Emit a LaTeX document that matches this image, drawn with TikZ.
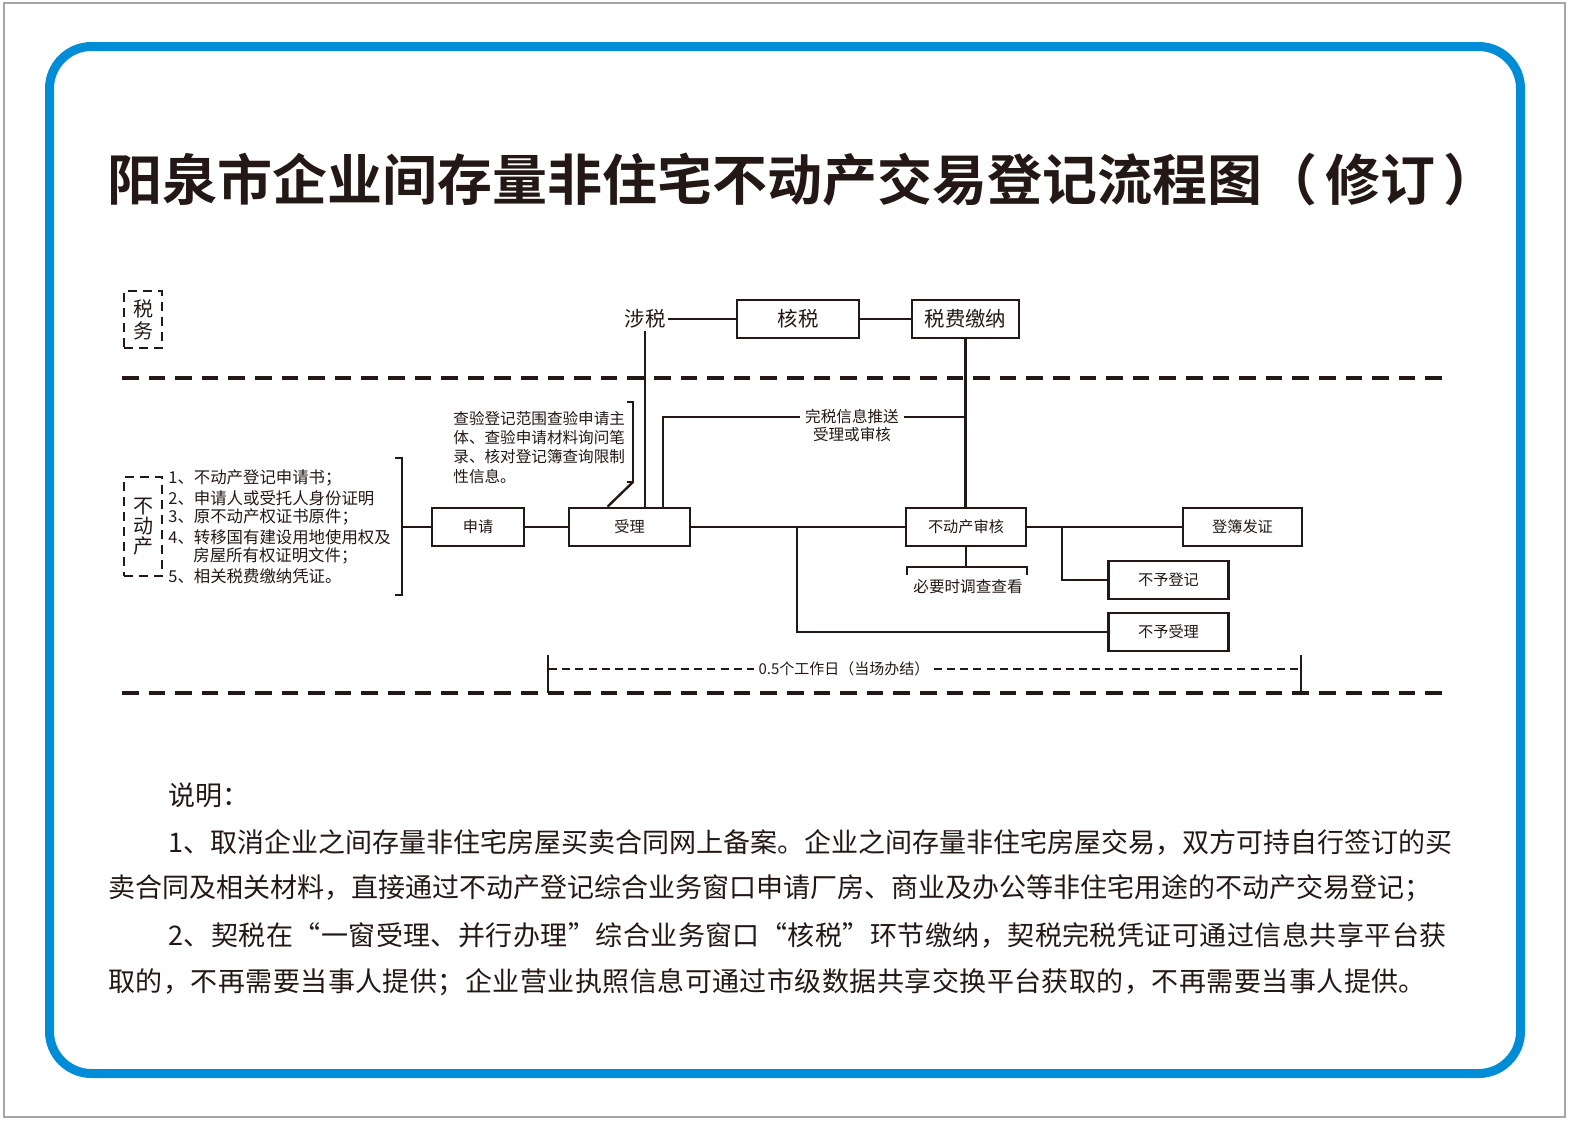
\documentclass[tikz,border=0pt]{standalone}
\usepackage{fontspec}
\setmainfont{Noto Sans CJK SC}
\newfontfamily\titlefont{Noto Sans CJK SC Bold}
\usetikzlibrary{calc}
\definecolor{ink}{RGB}{35,24,21}
\definecolor{frame}{RGB}{0,140,214}

\begin{document}
\begin{tikzpicture}[x=0.5pt,y=-0.5pt,color=ink,
  box/.style={draw=ink,line width=1.4pt,minimum height=19pt,inner sep=0pt,font=\fontsize{7.6}{9}\selectfont},
  taxbox/.style={box,font=\fontsize{10.2}{12}\selectfont},
  note/.style={inner sep=0pt,font=\fontsize{7.8}{9}\selectfont},
  side/.style={draw=ink,line width=1pt,dash pattern=on 4.5pt off 3pt,minimum width=19pt,align=center,inner sep=0pt,font=\fontsize{10}{10}\selectfont},
  link/.style={draw=ink,line width=1.2pt},
  lane/.style={draw=ink,line width=2pt,dash pattern=on 8.3pt off 5pt},
  period/.style={draw=ink,line width=1pt,dash pattern=on 4pt off 2.6pt},
  para/.style={anchor=west,inner sep=0pt,font=\fontsize{13.5}{16}\selectfont}]
\useasboundingbox (0,0) rectangle (1569,1121);
\draw[gray!70,line width=0.6pt] (4,3) rectangle (1565,1117);
\draw[frame,line width=4.5pt,rounded corners=21pt] (49.5,46.5) rectangle (1520.5,1073.5);

\node[anchor=west,inner sep=0pt] (title) at (107,180) {\titlefont\fontsize{27.5}{30}\selectfont 阳泉市企业间存量非住宅不动产交易登记流程图（\hspace{4pt}修订\hspace{4pt}）};

% lanes
\draw[lane] (122,378) -- (1447,378);
\draw[lane] (122,693) -- (1447,693);
\node[side,minimum height=28.5pt,font=\fontsize{10}{11}\selectfont] (tax) at (143,319.5) {税\\务};
\node[side,minimum height=49.5pt] (estate) at (143,526.5) {不\\动\\产};

% materials
\foreach \x/\y/\t [count=\i] in {168/478/1、不动产登记申请书；, 168/498/2、申请人或受托人身份证明,
  168/517/3、原不动产权证书原件；, 168/537/4、转移国有建设用地使用权及,
  193/556/房屋所有权证明文件；, 168/576/5、相关税费缴纳凭证。}
  \node[note,anchor=west,font=\fontsize{8.2}{9}\selectfont] (item\i) at (\x,\y) {\t};
\draw[link] (395,458) -- (402,458) -- (402,595) -- (395,595);
\coordinate (items) at (402,527);

\foreach \y/\t [count=\i] in {418/查验登记范围查验申请主, 438/体、查验申请材料询问笔,
  457/录、核对登记簿查询限制, 477/性信息。}
  \node[note,anchor=west] (scope\i) at (453,\y) {\t};

% boxes
\node[box,minimum width=46pt] (apply) at (478,527) {申请};
\node[box,minimum width=60.5pt] (accept) at (629.5,527) {受理};
\node[taxbox,minimum width=61pt] (taxcheck) at (798,319) {核税};
\node[taxbox,minimum width=53.5pt] (taxpay) at (965.5,319) {税费缴纳};
\node[box,minimum width=60pt] (review) at (966,527) {不动产审核};
\node[box,minimum width=59.5pt] (issue) at (1242.5,527) {登簿发证};
\node[box,minimum width=60pt] (refuse) at (1168.5,580) {不予登记};
\node[box,minimum width=60pt] (reject) at (1168.5,632) {不予受理};
\node[inner sep=1pt,font=\fontsize{10.2}{12}\selectfont] (taxed) at (645,319) {涉税};
\node[note,inner sep=2.5pt] (sent) at (852,417) {完税信息推送};
\node[note] (sent2) at (852,435) {受理或审核};
\node[note] (survey) at (968,587) {必要时调查查看};

% connectors
\draw[link] (items) -- (apply);
\draw[link] (apply) -- (accept);
\draw[link] (accept) -- (review);
\draw[link] (review) -- (issue);
\draw[link] (taxed) -- (taxcheck);
\draw[link] (taxcheck) -- (taxpay);
\draw[link] (taxpay.south) -- (taxpay.south |- review.north);
\draw[link] (taxed.south) -- (taxed.south |- accept.north);
\coordinate (push) at (663,0);
\draw[link] (accept.north -| push) |- (sent.west);
\draw[link] (sent.east) -- (sent.east -| taxpay.south);
\draw[link] (627,402) -- (633,402) -- (633,482) coordinate (hook) -- (627,482);
\draw[link] (hook) -- ($(accept.north west)+(40,0)$);
\coordinate (fork1) at (797,527);
\draw[link] (fork1) |- (reject.west);
\coordinate (fork2) at (1062,527);
\draw[link] (fork2) |- (refuse.west);
\draw[link] (review.south) -- ++(0,21);
\draw[link] (907,575) -- (907,567) -- (1027,567) -- (1027,575);

% time limit
\draw[link] (548,655) -- (548,693);
\draw[link] (1301,655) -- (1301,693);
\node[note,inner sep=2pt,font=\fontsize{7.5}{9}\selectfont] (period) at (844,669) {0.5个工作日（当场办结）};
\draw[period] (549,669) -- (period.west);
\draw[period] (period.east) -- (1301,669);

% notes
\node[para] (nb) at (168,795) {说明：};
\node[para] (nb1) at (168,842) {1、取消企业之间存量非住宅房屋买卖合同网上备案。企业之间存量非住宅房屋交易，双方可持自行签订的买};
\node[para] (nb2) at (108,888) {卖合同及相关材料，直接通过不动产登记综合业务窗口申请厂房、商业及办公等非住宅用途的不动产交易登记；};
\node[para] (nb3) at (168,935) {\addfontfeature{LetterSpace=1.7}2、契税在“一窗受理、并行办理”综合业务窗口“核税”环节缴纳，契税完税凭证可通过信息共享平台获};
\node[para] (nb4) at (108,982) {\addfontfeature{LetterSpace=1.7}取的，不再需要当事人提供；企业营业执照信息可通过市级数据共享交换平台获取的，不再需要当事人提供。};
\end{tikzpicture}
\end{document}
